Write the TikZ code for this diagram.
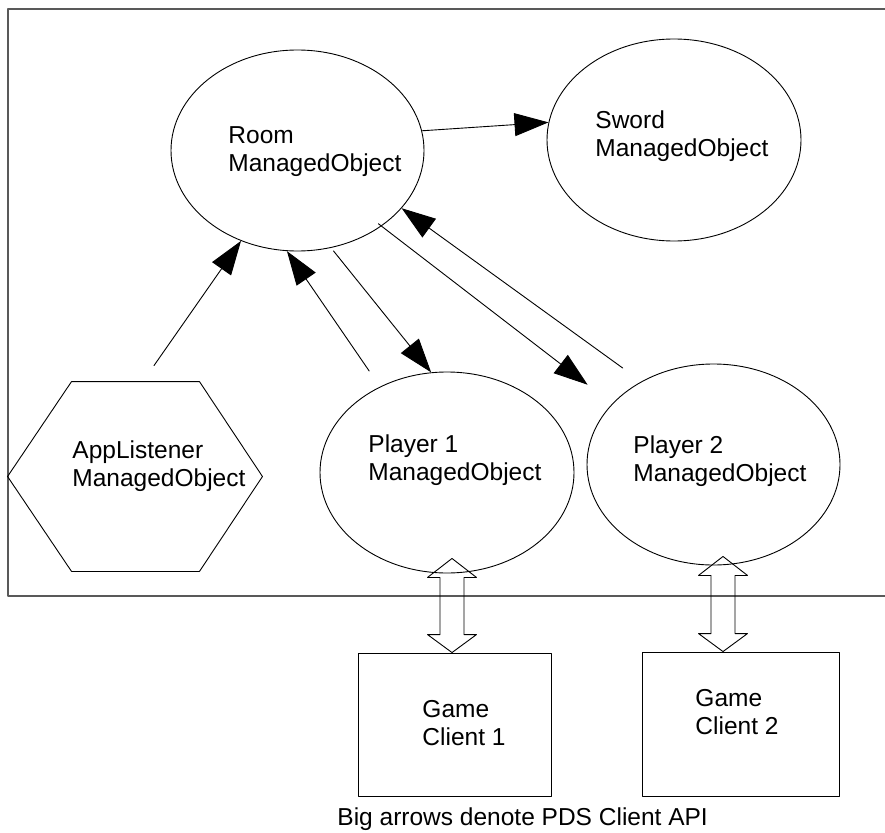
\documentclass[tikz,border=0pt]{standalone}
\usepackage{fontspec}
\setmainfont{Liberation Sans}
\usetikzlibrary{shapes.geometric,arrows.meta,calc}
\newcommand{\apiarrow}[2]{%
  \draw[api] (#1) coordinate (apitop) -- ++(-24.5,19) -- ++(12.5,0) -- ($(#2)+(-12,-18)$) -- ++(-12.5,0) -- (#2)
    -- ++(24.5,-18) -- ++(-12.5,0) -- ($(apitop)+(12,19)$) -- ++(12.5,0) -- cycle;}
\begin{document}
\begin{tikzpicture}[x=1pt, y=-1pt, line cap=round, line join=round, line width=0.9pt,
    font=\fontsize{24.5pt}{28pt}\selectfont]
	\tikzset{mo/.style={draw, ellipse, minimum width=253pt, minimum height=201pt, inner sep=0pt},
		hexframe/.style={minimum width=254pt, minimum height=189pt, inner sep=0pt},
		client/.style={draw, rectangle, inner sep=0pt},
		txt/.style={align=left, inner sep=0pt, anchor=base west},
		link/.style={-{Triangle[length=34pt,width=23pt]}},
		api/.style={line width=0.9pt}}
	\useasboundingbox (0,0) rectangle (885,832);
	\draw[black!65, line width=1.2pt] (8,9) rectangle (900,596);
	\node[mo] (room) at (297.5,150.5) {};
	\node[mo, minimum width=254pt, minimum height=202pt] (sword) at (674,140) {};
	\node[mo, minimum width=254pt] (p1) at (447,472.5) {};
	\node[mo] (p2) at (713.5,464.5) {};
	\node[hexframe] (app) at (135,476.5) {};
	\draw (app.west) -- ([xshift=64pt]app.north west) -- ([xshift=-63pt]app.north east) -- (app.east)
		-- ([xshift=-63pt]app.south east) -- ([xshift=64pt]app.south west) -- cycle;
	\node[client, minimum width=193pt, minimum height=143pt] (game1) at (454.5,724.5) {};
	\node[client, minimum width=197pt, minimum height=144pt] (game2) at (740.5,724) {};
	\node[txt] (roomtxt) at (228,171) {Room\\ManagedObject};
	\node[txt] (swordtxt) at (595,156) {Sword\\ManagedObject};
	\node[txt] (p1txt) at (368,480) {Player 1\\ManagedObject};
	\node[txt] (p2txt) at (633,481) {Player 2\\ManagedObject};
	\node[txt] (apptxt) at (72,486) {AppListener\\ManagedObject};
	\node[txt] (game1txt) at (422,745) {Game\\Client 1};
	\node[txt] (game2txt) at (695,734) {Game\\Client 2};
	\node[txt] (note) at (337,825) {Big arrows denote PDS Client API};
	\draw[link] ([xshift=19pt,yshift=16pt]app.north) -- (room.-122);
	\draw[link, shorten <=19pt] (p1.128) -- (room.-96);
	\draw[link, shorten <=4pt] (room.-71) -- (p1.99.5);
	\draw[link, shorten <=-4pt, shorten >=31pt] (room.-42) -- (p2.149);
	\draw[link, shorten <=23pt] (p2.131) -- (room.-29);
	\draw[link] (room.9) -- (sword.172);
	\apiarrow{$(game1.north |- p1.south)+(-2.5,-15)$}{$(game1.north)+(-2.5,0)$}
	\apiarrow{$(game2.north |- p2.south)+(-17.5,-9)$}{$(game2.north)+(-17.5,0)$}
\end{tikzpicture}
\end{document}
